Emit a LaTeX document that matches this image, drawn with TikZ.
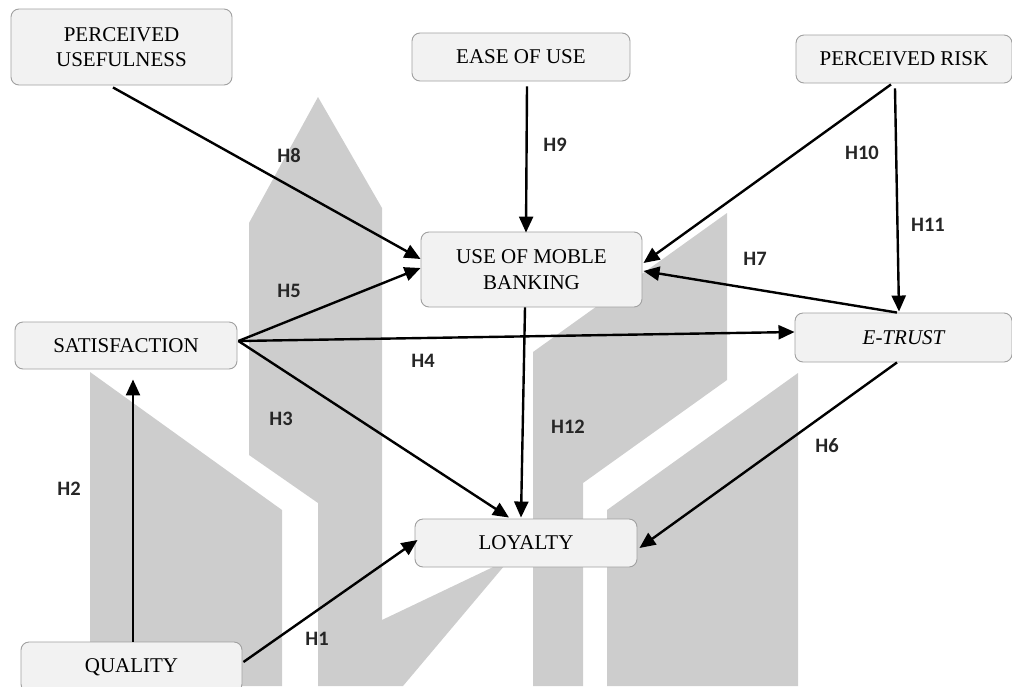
\documentclass[tikz,border=0pt]{standalone}
\usepackage{fontspec}
\setmainfont{Liberation Serif}
\newfontfamily\hfont{Carlito}
\usetikzlibrary{arrows.meta,calc}
\definecolor{wm}{RGB}{205,205,205}
\definecolor{boxfill}{RGB}{242,242,242}
\definecolor{boxline}{RGB}{160,160,160}
\definecolor{lbl}{RGB}{38,38,38}
\begin{document}
\begin{tikzpicture}[x=1pt,y=-1pt,
  box/.style={draw=boxline, fill=boxfill, rounded corners=8pt, line width=0.9pt, align=center, inner sep=0pt, text=black, font=\fontsize{21}{25}\selectfont},
  conn/.style={line width=2.4pt, -{Triangle[length=16pt,width=14pt]}},
  hyp/.style={font=\hfont\bfseries\fontsize{20.5}{22}\selectfont, text=lbl},
  wmark/.style={fill=wm}
]
\useasboundingbox (0,0) rectangle (1012,686);
\clip (0,0) rectangle (1012,686);
% watermark shapes
\fill[wmark] (90,372) -- (282,510) -- (282,686) -- (90,686) -- cycle;
\fill[wmark] (318,97) -- (382,208) -- (382,620) -- (510,559) -- (403,686) -- (318,686) -- (318,503) -- (249,455) -- (249,223) -- cycle;
\fill[wmark] (727,213) -- (727,380) -- (583,483) -- (583,686) -- (533,686) -- (533,352) -- cycle;
\fill[wmark] (607,510) -- (798,373) -- (798,686) -- (607,686) -- cycle;
% nodes
\node[box, minimum width=221pt, minimum height=76pt] (pu) at (121.5,47) {PERCEIVED\\USEFULNESS};
\node[box, minimum width=218pt, minimum height=48pt] (eou) at (521,57) {EASE OF USE};
\node[box, minimum width=216pt, minimum height=48pt] (pr) at (904,59) {PERCEIVED RISK};
\node[box, minimum width=221pt, minimum height=75pt, font=\fontsize{21}{26}\selectfont] (umb) at (531.5,269.5) {USE OF MOBLE\\BANKING};
\node[box, minimum width=222pt, minimum height=47pt] (sat) at (126,345.5) {SATISFACTION};
\node[box, minimum width=217pt, minimum height=49pt] (et) at (903.5,337.5) {\itshape E-TRUST};
\node[box, minimum width=222pt, minimum height=48pt] (loy) at (526,543) {LOYALTY};
\node[box, minimum width=221pt, minimum height=50pt] (qual) at (131.5,667) {QUALITY};
% connectors
\draw[conn] ($(pu.south)+(-8.5,2)$) -- ($(umb.west)+(0,-10.5)$);
\draw[conn] ($(eou.south)+(6,5)$) -- ($(umb.north)+(-5.5,1)$);
\draw[conn] ($(pr.south)+(-13,1)$) -- ($(umb.east)+(1,-6.5)$);
\draw[conn] ($(pr.south)+(-9,5)$) -- ($(et.north)+(-4.5,-1)$);
\draw[conn] ($(et.north)+(-6.5,0)$) -- ($(umb.east)+(1,1.5)$);
\draw[conn] ($(sat.east)+(1,-4.5)$) -- ($(umb.west)+(0,-1.5)$);
\draw[conn] ($(sat.east)+(1,-4.5)$) -- ($(et.west)+(0,-5.5)$);
\draw[conn] ($(sat.east)+(1,-4.5)$) -- ($(loy.north)+(-17,-1)$);
\draw[conn] ($(umb.south)+(-6.5,0)$) -- ($(loy.north)+(-5,-1)$);
\draw[conn] ($(et.south)+(-6.5,0)$) -- ($(loy.east)+(2,5)$);
\draw[conn] ($(qual.north)+(1.5,0)$) -- ($(sat.south)+(7,10)$);
\draw[conn] ($(qual.east)+(1,-5)$) -- ($(loy.west)+(3,-3)$);
% hypothesis labels
\node[hyp] (h8) at (289,155) {H8};
\node[hyp] (h9) at (555,145) {H9};
\node[hyp] (h10) at (862,153) {H10};
\node[hyp] (h11) at (928,225) {H11};
\node[hyp] (h7) at (755,259) {H7};
\node[hyp] (h5) at (289,291) {H5};
\node[hyp] (h4) at (423,361) {H4};
\node[hyp] (h3) at (281,419) {H3};
\node[hyp] (h12) at (568,427) {H12};
\node[hyp] (h6) at (827,446) {H6};
\node[hyp] (h2) at (69,489) {H2};
\node[hyp] (h1) at (317,639) {H1};
\end{tikzpicture}
\end{document}
